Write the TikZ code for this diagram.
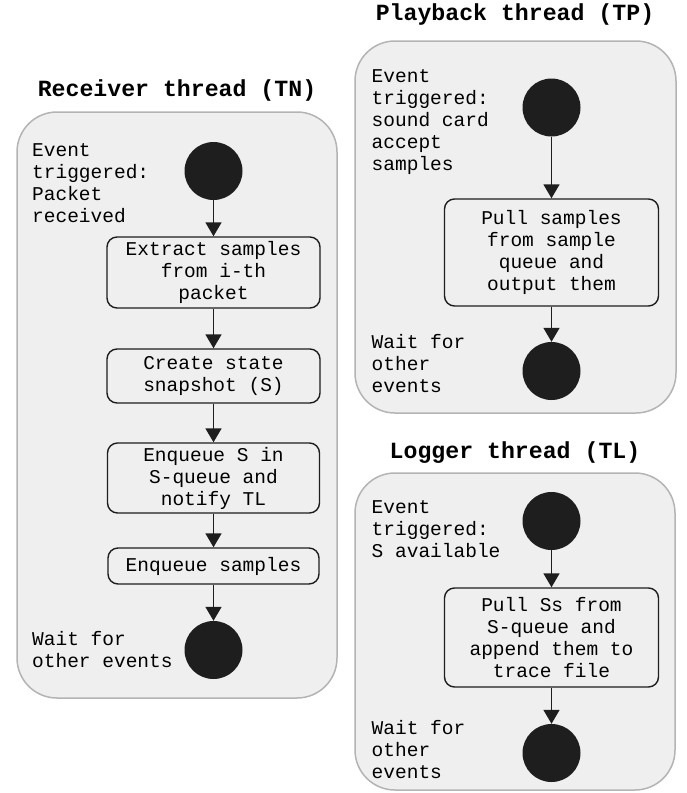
\documentclass[tikz,border=0pt]{standalone}
\usepackage{fontspec}
\setmainfont{Liberation Mono}
\usetikzlibrary{arrows.meta}
\definecolor{panelfill}{HTML}{EFEFEF}
\definecolor{paneldraw}{HTML}{B4B4B4}
\definecolor{ink}{HTML}{1E1E1E}
\tikzset{
  panel/.style={draw=paneldraw, fill=panelfill, line width=1.5pt, rounded corners=40pt},
  title/.style={anchor=base, inner sep=0pt, font=\fontsize{23.2}{26}\selectfont\bfseries},
  note/.style={anchor=north west, inner sep=0pt, align=left, font=\fontsize{19.5}{22}\selectfont},
  stepbox/.style={draw=ink, line width=1.4pt, rounded corners=10pt, inner sep=0pt, align=center,
    font=\fontsize{19.5}{22}\selectfont},
  dot/.style={circle, fill=ink, draw=none, minimum size=58pt, inner sep=0pt},
  flow/.style={draw=ink, line width=1.6pt, -{Triangle[width=16pt,length=14pt]}}
}
\begin{document}
\begin{tikzpicture}[x=1pt,y=-1pt]
\useasboundingbox (0,0) rectangle (686,793);

% ---------- Receiver thread ----------
\draw[panel] (17,112) rectangle (337,698);
\node[title] (tnTitle) at (177,96) {Receiver thread (TN)};
\node[note] (tnEv) at (32,141) {\strut Event\\triggered:\\Packet\\received};
\node[dot] (tnS) at (213.5,171) {};
\node[stepbox, minimum width=213pt, minimum height=71pt] (tnA) at (213.5,272.5) {Extract samples\\from i-th\\packet};
\node[stepbox, minimum width=213pt, minimum height=54pt] (tnB) at (213.5,376) {Create state\\snapshot (S)};
\node[stepbox, minimum width=212pt, minimum height=70pt] (tnC) at (213.5,478) {Enqueue S in\\S-queue and\\notify TL};
\node[stepbox, minimum width=211pt, minimum height=36pt] (tnD) at (213.5,566) {Enqueue samples};
\node[dot] (tnE) at (213.5,650) {};
\node[note] (tnWait) at (32,630) {\strut Wait for\\other events};
\draw[flow] (tnS.south) -- (tnA.north);
\draw[flow] (tnA.south) -- (tnB.north);
\draw[flow] (tnB.south) -- (tnC.north);
\draw[flow] (tnC.south) -- (tnD.north);
\draw[flow] (tnD.south) -- (tnE.north);

% ---------- Playback thread ----------
\draw[panel] (355,41) rectangle (676,413);
\node[title] (tpTitle) at (515,20) {Playback thread (TP)};
\node[note] (tpEv) at (371.5,67) {\strut Event\\triggered:\\sound card\\accept\\samples};
\node[dot] (tpS) at (551.5,107.5) {};
\node[stepbox, minimum width=214pt, minimum height=107pt] (tpA) at (551.5,252.5) {Pull samples\\from sample\\queue and\\output them};
\node[dot] (tpE) at (551.5,371) {};
\node[note] (tpWait) at (371.5,333) {\strut Wait for\\other\\events};
\draw[flow] (tpS.south) -- (tpA.north);
\draw[flow] (tpA.south) -- (tpE.north);

% ---------- Logger thread ----------
\draw[panel] (355,473) rectangle (675,790);
\node[title] (tlTitle) at (515,458) {Logger thread (TL)};
\node[note] (tlEv) at (371.5,498) {\strut Event\\triggered:\\S available};
\node[dot] (tlS) at (551.5,521) {};
\node[stepbox, minimum width=214pt, minimum height=99pt] (tlA) at (551.5,637.5) {Pull Ss from\\S-queue and\\append them to\\trace file};
\node[dot] (tlE) at (551.5,753) {};
\node[note] (tlWait) at (371.5,719) {\strut Wait for\\other\\events};
\draw[flow] (tlS.south) -- (tlA.north);
\draw[flow] (tlA.south) -- (tlE.north);
\end{tikzpicture}
\end{document}
